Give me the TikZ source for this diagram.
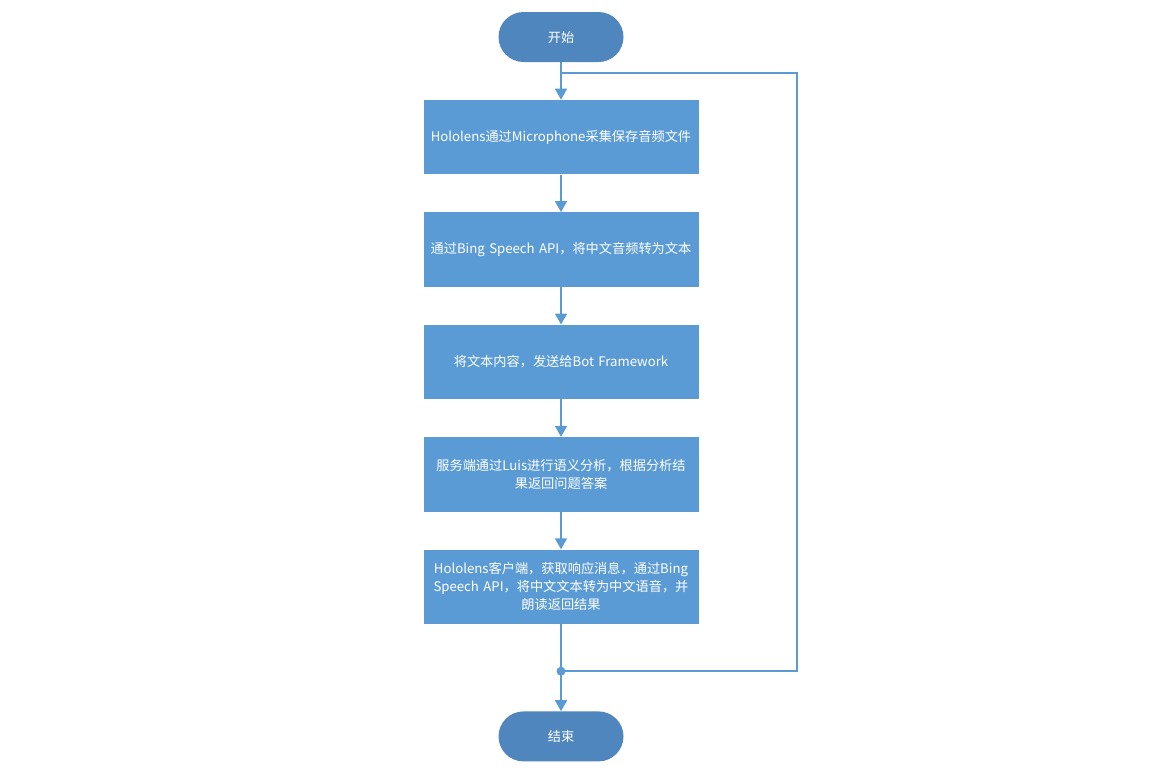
\documentclass[tikz,border=0pt]{standalone}
\usepackage{fontspec}
\setmainfont{Noto Sans CJK SC}
\usepackage{xcolor}
\usepackage{tikz}
\usetikzlibrary{arrows.meta, positioning, calc}

\definecolor{flowblue}{HTML}{5B9BD5}
\definecolor{termblue}{HTML}{4F86BD}

\begin{document}
\begin{tikzpicture}[
  x=1pt, y=1pt,
  >={Triangle[width=12pt,length=11pt]},
  node distance=37.5pt,
  every node/.style={font=\fontsize{13.2}{18}\selectfont, text=white},
  terminal/.style={fill=termblue, rounded corners=25pt, minimum width=125pt, minimum height=50pt},
  process/.style={fill=flowblue, minimum width=275pt, minimum height=74.5pt, text width=265pt, inner sep=5pt, align=center},
  flow/.style={draw=flowblue, line width=1.6pt}
]
\useasboundingbox (0,0) rectangle (1155,-772);

\node[terminal] (start) at (561,-37) {开始};
\node[process, below=of start] (record) {Hololens通过Microphone采集保存音频文件};
\node[process, below=of record] (stt) {通过Bing Speech API，将中文音频转为文本};
\node[process, below=of stt] (send) {将文本内容，发送给Bot Framework};
\node[process, below=of send] (luis) {服务端通过Luis进行语义分析，根据分析结\\果返回问题答案};
\node[process, below=of luis] (speak) {Hololens客户端，获取响应消息，通过Bing\\Speech API，将中文文本转为中文语音，并\\朗读返回结果};
\node[terminal, below=87pt of speak] (finish) {结束};

% loop back
\coordinate (join) at ($(speak.south)+(0,-47)$);
\coordinate (top) at ($(record.north)+(0,27)$);
\coordinate (far) at (797,0);

\draw[flow, ->] (start) -- (record);
\draw[flow, ->] (record) -- (stt);
\draw[flow, ->] (stt) -- (send);
\draw[flow, ->] (send) -- (luis);
\draw[flow, ->] (luis) -- (speak);
\draw[flow, ->] (speak) -- (finish);
\draw[flow] (join) -- (join -| far) -- (top -| far) -- (top);
\fill[flowblue] (join) circle (4.5pt);
\end{tikzpicture}
\end{document}
